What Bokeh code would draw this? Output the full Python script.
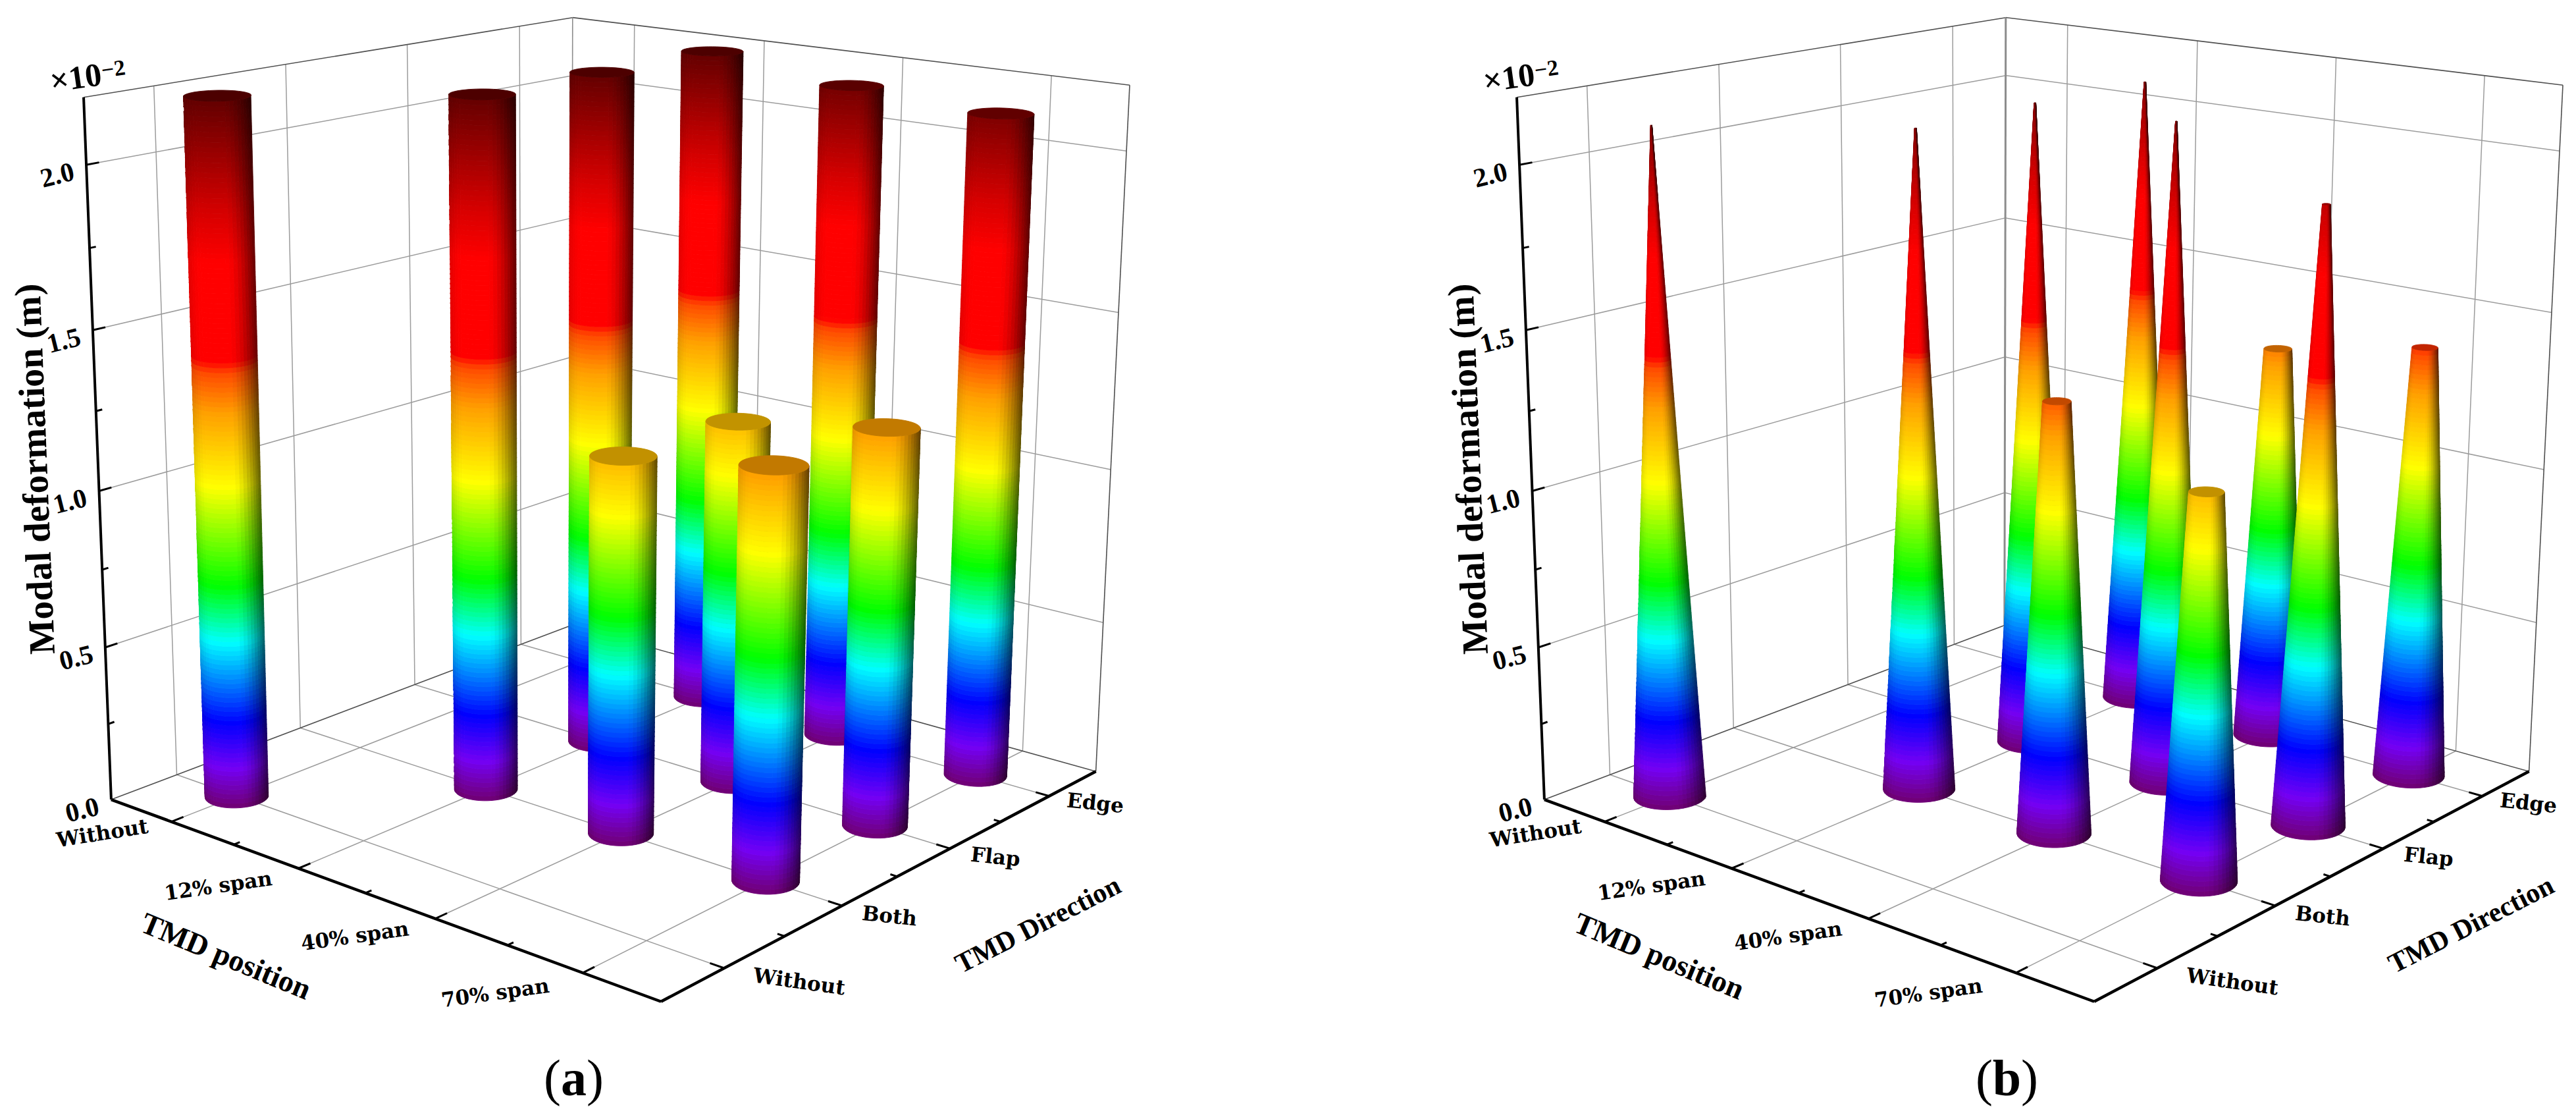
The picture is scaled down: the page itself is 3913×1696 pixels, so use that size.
import numpy as np
from bokeh.plotting import figure
from bokeh.models import Range1d, ColumnDataSource
from bokeh.layouts import row
from bokeh.core.properties import value
from bokeh.embed import file_html
from bokeh.resources import INLINE

# ---------------- chart values ----------------
tmd_position = ["Without", "12% span", "40% span", "70% span"]
tmd_direction = ["Without", "Both", "Flap", "Edge"]
z_ticks = [0.0, 0.5, 1.0, 1.5, 2.0]
z_top = 2.2
# rows: TMD position, columns: TMD direction; None = not simulated
deformation_a = [
    [2.20, None, None, None],
    [None, 2.195, 2.195, 2.197],
    [None, 1.187, 1.178, 2.145],
    [None, 1.262, 1.258, 2.119],
]
deformation_b = [
    [2.113, None, None, None],
    [None, 2.094, 2.100, 2.098],
    [None, 1.353, 2.105, 1.304],
    [None, 1.184, 1.926, 1.397],
]

# colour scale of the surface: value -> colour
scale_values = [0.00, 0.13, 0.28, 0.54, 0.72, 1.03, 1.26, 1.385, 1.42, 1.72, 1.87, 2.05, 2.20]
scale_colours = ["#700070", "#7400f4", "#0000ff", "#00ffff", "#00ff00", "#ffff00", "#ffa000",
                 "#ff4a00", "#ff0000", "#ff0000", "#d60000", "#980000", "#640000"]

# ---------------- camera of the 3D box (fitted on the box corners and ticks) ----------------
U0, U1, V0, V1 = 0.5, 4.5, 0.5, 4.5
camera_fit = [
    ((.5,.5,0),(169,1214),5),((.5,4.5,0),(866,949),5),((4.5,4.5,0),(1665.4,1170),5),((4.5,.5,0),(1002,1521),5),
    ((.5,.5,2.2),(125.6,145.4),3),((.5,4.5,2.2),(870.5,25.5),3),((4.5,4.5,2.2),(1715,130),3),
    ((.5,.5,2),(131,248.5),1),((.5,.5,1.5),(141.6,498.5),1),((.5,.5,1),(153,742),1),((.5,.5,.5),(162.6,980),1),
    ((.5,4.5,2),(870.5,115),1),((.5,4.5,1.5),(867,333),1),((.5,4.5,1),(867,543),1),((.5,4.5,.5),(867,750),1),
    ((4.5,4.5,2),(1709,229.6),1),((4.5,4.5,1.5),(1698,474.5),1),((4.5,4.5,1),(1686.5,712.8),1),((4.5,4.5,.5),(1673.7,944.6),1),
    ((1,.5,0),(264.7,1248.6),1),((2,.5,0),(459,1317),1),((3,.5,0),(663,1394),1),((4,.5,0),(893,1474),1),
    ((4.5,1,0),(1100,1466),1),((4.5,2,0),(1278,1371),1),((4.5,3,0),(1441,1286),1),((4.5,4,0),(1594,1207),1),
    ((.5,1,2.2),(231,132),1),((.5,2,2.2),(432,98.5),1),((.5,3,2.2),(617,68),1),((.5,4,2.2),(791,40),1),
    ((.5,1,0),(269,1177),1),((.5,2,0),(458,1104.6),1),((.5,3,0),(631,1039),1),((.5,4,0),(791,977),1),
    ((1,4.5,2.2),(964.5,38),1),((2,4.5,2.2),(1161,62),1),((3,4.5,2.2),(1371,89),1),((4,4.5,2.2),(1597,116),1),
]
_A, _b = [], []
for (u, v, z), (x, y), w in camera_fit:
    _A.append([w*q for q in (u, v, z, 1, 0, 0, 0, 0, -x*u, -x*v, -x*z)]); _b.append(w*x)
    _A.append([w*q for q in (0, 0, 0, 0, u, v, z, 1, -y*u, -y*v, -y*z)]); _b.append(w*y)
CAM = np.append(np.linalg.lstsq(np.array(_A, float), np.array(_b, float), rcond=None)[0], 1).reshape(3, 4)


def project(u, v, z):
    u, v, z = np.broadcast_arrays(np.asarray(u, float), np.asarray(v, float), np.asarray(z, float))
    h = np.stack([u, v, z, np.ones_like(u)], axis=-1)
    w = h @ CAM[2]
    return (h @ CAM[0]) / w, (h @ CAM[1]) / w


def hex_rgb(c):
    return np.array([int(c[i:i+2], 16) for i in (1, 3, 5)], float)


SCALE = np.array([hex_rgb(c) for c in scale_colours])


def colour_at(z):
    return np.array([np.interp(z, scale_values, SCALE[:, i]) for i in range(3)])


def to_hex(rgb):
    r, g, b = np.clip(np.round(rgb), 0, 255).astype(int)
    return f"#{r:02x}{g:02x}{b:02x}"


def light(t):
    """surface brightness over the visible width, t=-1 left edge, t=1 right edge"""
    if t > 0.15:
        return 1 - 0.62 * ((t - 0.15) / 0.85) ** 1.7
    if t < -0.6:
        return 1 - 0.12 * ((-t - 0.6) / 0.4) ** 2
    return 1.0


def draw_column(p, u, v, height, r0, apex):
    """one cylinder (apex=None) or truncated cone, built from small surface patches"""
    def radius(z):
        return r0 if apex is None else r0 * max(1 - z / apex, 0)

    n_theta = 48
    dz = 0.015
    n_z = max(int(height / dz), 2)
    zs = np.linspace(0, height, n_z + 1)
    th = np.linspace(0, 2 * np.pi, n_theta + 1)
    xs, ys, fills = [], [], []
    for j in range(n_z):
        z0, z1 = zs[j], zs[j + 1]
        r_a, r_b = radius(z0), radius(z1)
        xa, ya = project(u + r_a * np.cos(th), v + r_a * np.sin(th), z0)
        xb, yb = project(u + r_b * np.cos(th), v + r_b * np.sin(th), z1)
        _, yc = project(u, v, z0)
        xmin, xmax = xa.min(), xa.max()
        xc, half = (xmin + xmax) / 2, (xmax - xmin) / 2
        base = colour_at((z0 + z1) / 2)
        front = [(ya[k] + ya[k + 1]) / 2 >= yc - 0.01 for k in range(n_theta)]
        start = next(k for k in range(n_theta) if front[k] and not front[k - 1])
        run_cols, run_idx = [], []
        for step in range(n_theta):
            k = (start + step) % n_theta
            if not front[k]:
                break
            t = ((xa[k] + xa[k + 1]) / 2 - xc) / max(half, 1e-6)
            col = to_hex(base * light(t))
            if run_cols and run_cols[-1] == col:
                run_idx[-1].append(k)
            else:
                run_cols.append(col)
                run_idx.append([k])
        for col, idx in zip(run_cols, run_idx):
            ring = idx + [idx[-1] + 1]
            xs.append([float(xa[i]) for i in ring] + [float(xb[i]) for i in reversed(ring)])
            ys.append([float(ya[i]) for i in ring] + [float(yb[i]) for i in reversed(ring)])
            fills.append(col)
    src = ColumnDataSource(dict(xs=xs, ys=ys, c=fills))
    p.patches("xs", "ys", source=src, fill_color="c", line_color="c", line_width=0.9)
    r_top = radius(height)
    if r_top > 0.004:
        cx, cy = project(u + r_top * np.cos(th), v + r_top * np.sin(th), height)
        cap = to_hex(colour_at(height) * 0.76)
        p.patch(list(cx), list(cy), fill_color=cap, line_color=cap, line_width=0.9)


def lines(p, segments, **style):
    xs, ys = [], []
    for a, b in segments:
        x, y = project([a[0], b[0]], [a[1], b[1]], [a[2], b[2]])
        xs.append([float(q) for q in x])
        ys.append([float(q) for q in y])
    p.multi_line(xs, ys, **style)


def draw_panel(p, values, r0, apex, back_width, tag_letter, tag_width):
    # ---- grid on the walls and the floor
    grid = []
    for z in z_ticks[1:]:
        grid += [((U0, V0, z), (U0, V1, z)), ((U0, V1, z), (U1, V1, z))]
    for i in range(1, 5):
        grid += [((U0, i, 0), (U0, i, z_top)), ((i, V1, 0), (i, V1, z_top)),
                 ((i, V0, 0), (i, V1, 0)), ((U0, i, 0), (U1, i, 0))]
    lines(p, grid, line_color="#9c9c9c", line_width=1.5)

    # ---- thin box edges
    lines(p, [((U0, V0, z_top), (U0, V1, z_top)), ((U0, V1, z_top), (U1, V1, z_top)),
              ((U1, V1, 0), (U1, V1, z_top)), ((U0, V0, 0), (U0, V1, 0)), ((U0, V1, 0), (U1, V1, 0))],
          line_color="#505050", line_width=1.6)
    lines(p, [((U0, V1, 0), (U0, V1, z_top))], line_color="#8c8c8c", line_width=back_width)

    # ---- columns, far ones first
    cols = []
    for i, line in enumerate(values):
        for j, h in enumerate(line):
            if h is not None:
                cols.append((float(project(i + 1, j + 1, 0)[1]), i + 1, j + 1, h))
    for _, u, v, h in sorted(cols):
        draw_column(p, u, v, h, r0, apex)

    # ---- bold axes and ticks
    lines(p, [((U0, V0, 0), (U0, V0, z_top))], line_color="black", line_width=4)
    lines(p, [((U0, V0, 0), (U1, V0, 0)), ((U1, V0, 0), (U1, V1, 0))], line_color="black", line_width=4.5)
    ticks = []
    for z in z_ticks[1:]:
        ticks.append(((U0, V0, z), (U0, V0 + 0.09, z)))
    for z in z_ticks[:-1]:
        ticks.append(((U0, V0, z + .25), (U0, V0 + 0.045, z + .25)))
    for i in range(1, 5):
        ticks.append(((i, V0, 0), (i, V0 + 0.09, 0)))
        ticks.append(((U1, i, 0), (U1 - 0.09, i, 0)))
    for i in (1.5, 2.5, 3.5):
        ticks.append(((i, V0, 0), (i, V0 + 0.045, 0)))
        ticks.append(((U1, i, 0), (U1 - 0.045, i, 0)))
    lines(p, ticks, line_color="black", line_width=3)

    serif = value("Liberation Serif")
    wide = value("DejaVu Serif")

    # ---- z labels
    zx, zy = project([U0] * 5, [V0] * 5, z_ticks)
    p.text([float(q) for q in zx], [float(q) for q in zy], text=[f"{z:.1f}" for z in z_ticks],
           x_offset=-44, y_offset=16,
           text_font=serif, text_font_style="bold", text_font_size="41px",
           text_align="center", text_baseline="middle", angle=np.radians(14), text_color="black")
    tx0, ty0 = project(U0, V0, z_top)
    p.text([float(tx0)], [float(ty0)], text=["×10"], x_offset=-12, y_offset=-30,
           text_font=serif, text_font_style="bold", text_font_size="50px", text_align="center",
           text_baseline="middle", angle=np.radians(8), text_color="black")
    p.text([float(tx0)], [float(ty0)], text=["−2"], x_offset=45, y_offset=-43,
           text_font=serif, text_font_style="bold", text_font_size="34px", text_align="center",
           text_baseline="middle", angle=np.radians(8), text_color="black")
    ax, ay = project(U0, V0, 1.1)
    p.text([float(ax)], [float(ay)], text=["Modal deformation (m)"], x_offset=-96, y_offset=15,
           text_font=serif, text_font_style="bold", text_font_size="56px",
           text_align="center", text_baseline="middle", angle=np.radians(92.3), text_color="black")

    # ---- category labels
    off_u = [(-105, 17), (-122, 26), (-122, 26), (-133, 30)]
    ang_u = [9, 8, 8, 8]
    off_v = [(114, 20), (72, 15), (69, 12), (70, 10)]
    ang_v = [-8, -6, -6, -6]
    for i in range(4):
        x, y = project(i + 1, V0, 0)
        p.text([float(x)], [float(y)], text=[tmd_position[i]], x_offset=off_u[i][0], y_offset=off_u[i][1],
               text_font=wide, text_font_style="bold", text_font_size="31px",
               text_align="center", text_baseline="middle", angle=np.radians(ang_u[i]), text_color="black")
        x, y = project(U1, i + 1, 0)
        p.text([float(x)], [float(y)], text=[tmd_direction[i]], x_offset=off_v[i][0], y_offset=off_v[i][1],
               text_font=wide, text_font_style="bold", text_font_size="31px",
               text_align="center", text_baseline="middle", angle=np.radians(ang_v[i]), text_color="black")

    p.text([343], [1451], text=["TMD position"], text_font=serif, text_font_style="bold",
           text_font_size="46px", text_align="center", text_baseline="middle",
           angle=np.radians(-22.5), text_color="black")
    p.text([1576], [1403], text=["TMD Direction"], text_font=serif, text_font_style="bold",
           text_font_size="42px", text_align="center", text_baseline="middle",
           angle=np.radians(27), text_color="black")

    # ---- panel tag, bold letter in plain brackets
    half = 13 + tag_width / 2
    for dx, s, st in ((-half, "(", "normal"), (0, tag_letter, "bold"), (half, ")", "normal")):
        p.text([871 + dx], [1636], text=[s], text_font=serif, text_font_style=st, text_font_size="78px",
               text_align="center", text_baseline="middle", text_color="black")


def new_panel(width, x0):
    p = figure(width=width, height=1680, x_range=Range1d(x0, x0 + width), y_range=Range1d(1680, 0),
               output_backend="svg", toolbar_location=None, min_border=0)
    p.axis.visible = False
    p.grid.visible = False
    p.outline_line_color = None
    return p


p_a = new_panel(1950, 0)
draw_panel(p_a, deformation_a, 0.18, None, 1.6, "a", 39)
p_b = new_panel(1947, 1950 - 2177)
draw_panel(p_b, deformation_b, 0.205, 2.15, 3.0, "b", 43)

page = row(p_a, p_b, spacing=0)
open("out.html", "w").write(file_html(page, INLINE))
